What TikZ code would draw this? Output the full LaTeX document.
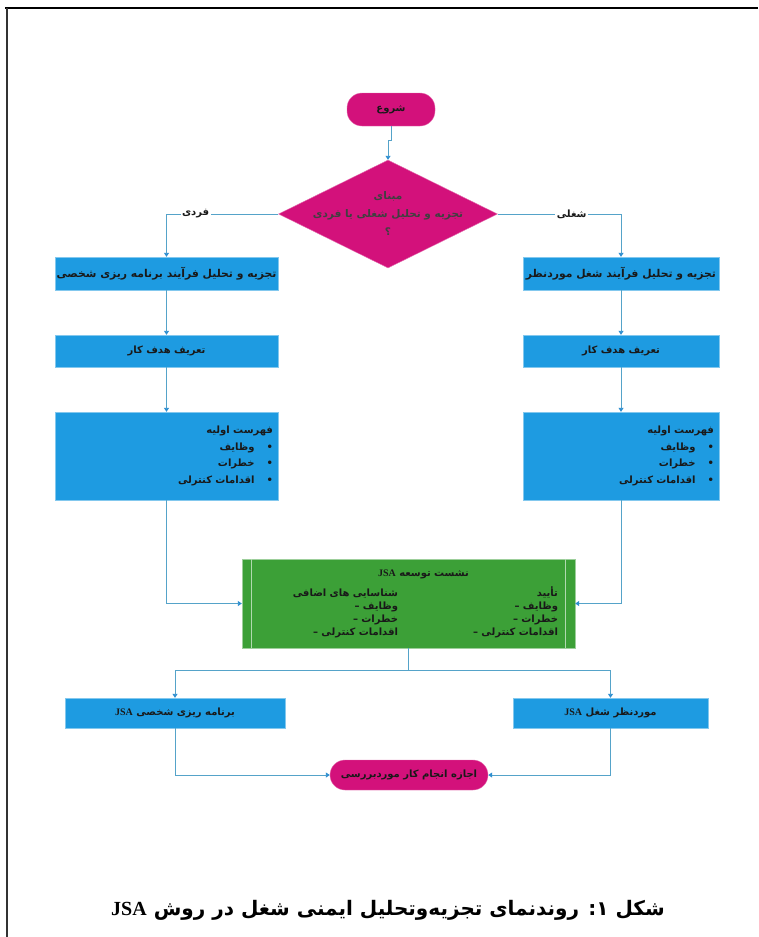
\documentclass[tikz,border=0pt]{standalone}
\usepackage{fontspec}
\usepackage{array}
\newfontfamily\arabicfont[Script=Arabic]{DejaVu Sans}
\newfontfamily\latinfont{Liberation Serif}
\TeXXeTstate=1
\usetikzlibrary{shapes.geometric,arrows.meta}
\definecolor{jsapink}{HTML}{D3117B}
\definecolor{jsablue}{HTML}{1E9BE1}
\definecolor{jsagreen}{HTML}{3CA037}
\definecolor{jsaline}{HTML}{55A3C9}
\definecolor{jsatip}{HTML}{2F8FD0}
\newcommand{\fatext}[1]{\beginR #1\endR}
\newcommand{\jsa}{\beginL\latinfont JSA\endL}
\begin{document}
\begin{tikzpicture}[x=1pt, y=-1pt,
  every node/.style={font=\arabicfont\bfseries\fontsize{10}{13}\selectfont, text=black!90},
  flow/.style={draw=jsaline, line width=0.9pt, -{Triangle[width=5pt,length=4pt,color=jsatip,fill=jsatip]}},
  bluebox/.style={rectangle, fill=jsablue, draw=jsablue!55!white, inner sep=0pt},
  term/.style={rectangle, rounded corners=15pt, fill=jsapink, draw=jsapink!60!white, inner sep=0pt},
  lbl/.style={fill=white, inner sep=1.5pt}]
\useasboundingbox [fill=white] (0,0) rectangle (758,937);
\draw [line width=2.5pt] (5,8) -- (758,8);
\draw [line width=2pt, black!80] (7,8) -- (7,937);
\node [term, minimum width=88pt, minimum height=33pt] (start) at (391,109.5) {\fatext{شروع}};
\node [diamond, aspect=2, fill=jsapink, draw=jsapink!60!white, inner sep=-16pt, minimum width=219pt, minimum height=108pt, align=center, font=\arabicfont\bfseries\fontsize{10.5}{18}\selectfont, text=black!75] (dia) at (388,214) {\fatext{مبنای}\\ \fatext{تجزیه و تحلیل شغلی یا فردی}\\ \fatext{؟}};
\node [bluebox, minimum width=223pt, minimum height=33pt, font=\arabicfont\bfseries\fontsize{10.8}{13}\selectfont] (lb1) at (166.5,273.5) {\fatext{تجزیه و تحلیل فرآیند برنامه ریزی شخصی}};
\node [bluebox, minimum width=223pt, minimum height=32pt] (lb2) at (166.5,351) {\fatext{تعریف هدف کار}};
\node [bluebox, minimum width=223pt, minimum height=88pt, inner xsep=5pt, text width=213pt, align=right, font=\arabicfont\bfseries\fontsize{10}{16.5}\selectfont] (lb3) at (166.5,456) {\fatext{فهرست اولیه}\\ \fatext{\textbullet\hspace{12pt}وظایف}\hspace{3pt}\\ \fatext{\textbullet\hspace{12pt}خطرات}\hspace{3pt}\\ \fatext{\textbullet\hspace{12pt}اقدامات کنترلی}\hspace{3pt}};
\node [bluebox, minimum width=196pt, minimum height=33pt, font=\arabicfont\bfseries\fontsize{10.8}{13}\selectfont] (rb1) at (621,273.5) {\fatext{تجزیه و تحلیل فرآیند شغل موردنظر}};
\node [bluebox, minimum width=196pt, minimum height=32pt] (rb2) at (621,351) {\fatext{تعریف هدف کار}};
\node [bluebox, minimum width=196pt, minimum height=88pt, inner xsep=5pt, text width=186pt, align=right, font=\arabicfont\bfseries\fontsize{10}{16.5}\selectfont] (rb3) at (621,456) {\fatext{فهرست اولیه}\\ \fatext{\textbullet\hspace{12pt}وظایف}\hspace{3pt}\\ \fatext{\textbullet\hspace{12pt}خطرات}\hspace{3pt}\\ \fatext{\textbullet\hspace{12pt}اقدامات کنترلی}\hspace{3pt}};
\node [rectangle, fill=jsagreen, draw=jsagreen!50!white, inner sep=0pt, minimum width=333pt, minimum height=89pt, text width=299pt, align=right] (green) at (408.5,603.5) {\begin{tabular}{@{}>{\raggedleft\arraybackslash}p{109pt}@{}>{\raggedleft\arraybackslash}p{160pt}@{}}
\multicolumn{2}{c}{\fatext{نشست توسعه \jsa}}\\[6pt]
\fatext{شناسایی های اضافی} & \fatext{تأیید}\\
\fatext{وظایف –} & \fatext{وظایف –}\\
\fatext{خطرات –} & \fatext{خطرات –}\\
\fatext{اقدامات کنترلی –} & \fatext{اقدامات کنترلی –}
\end{tabular}};
\draw [jsagreen!40!white, line width=0.8pt] ([xshift=10pt]green.north west) -- ([xshift=10pt]green.south west);
\draw [jsagreen!40!white, line width=0.8pt] ([xshift=-10pt]green.north east) -- ([xshift=-10pt]green.south east);
\node [bluebox, minimum width=220pt, minimum height=30pt] (pb) at (175,713) {\fatext{برنامه ریزی شخصی \jsa}};
\node [bluebox, minimum width=195pt, minimum height=30pt] (jb) at (610.5,713) {\fatext{موردنظر شغل \jsa}};
\node [term, minimum width=158pt, minimum height=30pt] (fin) at (409,775) {\fatext{اجازه انجام کار موردبررسی}};
\coordinate (split) at (408.5,670);
\draw [flow] (start.south) -- ++(0,14) -| (dia.north);
\draw [flow] (dia.west) -| node [lbl, pos=0.37] {\fatext{فردی}} (lb1.north);
\draw [flow] (dia.east) -| node [lbl, pos=0.3] {\fatext{شغلی}} (rb1.north);
\draw [flow] (lb1) -- (lb2);
\draw [flow] (lb2) -- (lb3);
\draw [flow] (rb1) -- (rb2);
\draw [flow] (rb2) -- (rb3);
\draw [flow] (lb3.south) |- (green.west);
\draw [flow] (rb3.south) |- (green.east);
\draw [draw=jsaline, line width=0.9pt] (green.south) -- (split);
\draw [flow] (split) -| (pb.north);
\draw [flow] (split) -| (jb.north);
\draw [flow] (pb.south) |- (fin.west);
\draw [flow] (jb.south) |- (fin.east);
\node [font=\arabicfont\bfseries\fontsize{20}{24}\selectfont, text=black] (cap) at (388,910) {\fatext{شکل ۱: روندنمای تجزیه‌وتحلیل ایمنی شغل در روش \jsa}};
\end{tikzpicture}
\end{document}
